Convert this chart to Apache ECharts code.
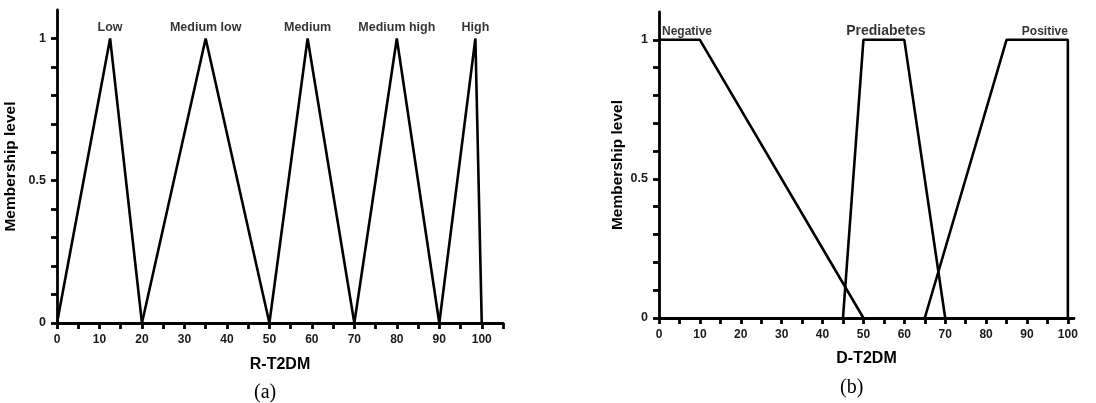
<!DOCTYPE html>
<html><head><meta charset="utf-8">
<script src="https://cdn.jsdelivr.net/npm/echarts@6/dist/echarts.min.js"></script>
<style>html,body{margin:0;padding:0;background:#fff}#c{width:1096px;height:403px}</style>
</head><body><div id="c"></div>
<script>
// ---- data: chart (a) R-T2DM ----
const aLow = [[0,0],[12.5,1],[20,0]];
const aMedLow = [[20,0],[35,1],[50,0]];
const aMedium = [[50,0],[59,1],[70,0]];
const aMedHigh = [[70,0],[80,1],[90,0]];
const aHigh = [[90,0],[98.5,1],[100,0]];
const aNames = ['Low','Medium low','Medium','Medium high','High'];
const aPeaks = [12.5,35,59,80,98.5];
// ---- data: chart (b) D-T2DM ----
const bNegative = [[0,1],[10,1],[50,0]];
const bPrediabetes = [[45,0],[50,1],[60,1],[70,0]];
const bPositive = [[65,0],[85,1],[100,1],[100,0]];
const bNames = ['Negative','Prediabetes','Positive'];
const bLabelX = [0,55.5,100];
// ---- ticks ----
const xTicksA = [0,5,10,15,20,25,30,35,40,45,50,55,60,65,70,75,80,85,90,95,100,105];
const xTicksB = [0,5,10,15,20,25,30,35,40,45,50,55,60,65,70,75,80,85,90,95,100];
const xLabels = [0,10,20,30,40,50,60,70,80,90,100];
const yTicks = [0,0.1,0.2,0.3,0.4,0.5,0.6,0.7,0.8,0.9,1];
const yLabels = [0,0.5,1];

const FONT = 'Liberation Sans, Arial, sans-serif';
const lineStyle = {color:'#000', width:2.6};
function mkLine(data, idx){
  return {type:'line', xAxisIndex:idx, yAxisIndex:idx, data:data, symbol:'none',
    lineStyle:lineStyle, animation:false, silent:true, z:3};
}
function xAx(idx, max, ticks, name, gap){
  return {type:'value', gridIndex:idx, min:0, max:max, name:name, nameLocation:'middle', nameGap:gap,
    nameTextStyle:{fontFamily:FONT, fontWeight:'bold', fontSize:16, color:'#000'},
    axisLine:{show:true, onZero:false, lineStyle:{color:'#000', width:2.8}},
    axisTick:{show:true, customValues:ticks, length:6, lineStyle:{color:'#000', width:2.8}},
    axisLabel:{customValues:xLabels, margin:11, fontFamily:FONT, fontWeight:'bold', fontSize:12, color:'#1a1a1a'},
    splitLine:{show:false}};
}
function yAx(idx, gap){
  return {type:'value', gridIndex:idx, min:0, max:1.1, name:'Membership level', nameLocation:'middle', nameGap:gap,
    nameTextStyle:{fontFamily:FONT, fontWeight:'bold', fontSize:15.5, color:'#000'},
    axisLine:{show:true, onZero:false, lineStyle:{color:'#000', width:2.8}},
    axisTick:{show:true, customValues:yTicks, length:6, lineStyle:{color:'#000', width:2.8}},
    axisLabel:{customValues:yLabels, margin:11, fontFamily:FONT, fontWeight:'bold', fontSize:12.5, color:'#1a1a1a'},
    splitLine:{show:false}};
}
const aLabelData = aNames.map((n,i)=>({name:n, value:[aPeaks[i],1]}));
const bLabelData = bNames.map((n,i)=>{
  const d = {name:n, value:[bLabelX[i],1]};
  if(i===0) d.label = {align:'left', offset:[3,0]};
  if(i===1) d.label = {fontSize:14};
  if(i===2) d.label = {align:'right', offset:[0,0]};
  return d;
});
const chart = echarts.init(document.getElementById('c'), null, {renderer:'canvas'});
chart.setOption({
  animation:false,
  backgroundColor:'#fff',
  grid:[
    {left:57, right:593, top:10, bottom:80},
    {left:659, right:22, top:12, bottom:85}
  ],
  xAxis:[xAx(0,105,xTicksA,'R-T2DM',34), xAx(1,101.5,xTicksB,'D-T2DM',33)],
  yAxis:[yAx(0,38), yAx(1,33)],
  series:[
    mkLine(aLow,0), mkLine(aMedLow,0), mkLine(aMedium,0), mkLine(aMedHigh,0), mkLine(aHigh,0),
    mkLine(bNegative,1), mkLine(bPrediabetes,1), mkLine(bPositive,1),
    {type:'scatter', xAxisIndex:0, yAxisIndex:0, symbolSize:0, data:aLabelData, silent:true,
      label:{show:true, position:'top', distance:4, formatter:'{b}', fontFamily:FONT, fontWeight:'bold', fontSize:12.5, color:'#000'}},
    {type:'scatter', xAxisIndex:1, yAxisIndex:1, symbolSize:0, data:bLabelData, silent:true,
      label:{show:true, position:'top', distance:2, formatter:'{b}', fontFamily:FONT, fontWeight:'bold', fontSize:12, color:'#000'}}
  ],
  graphic:[
    {type:'text', left:254, top:383, style:{text:'(a)', font:'20px "Liberation Serif", "Times New Roman", serif', fill:'#000'}},
    {type:'text', left:840, top:378, style:{text:'(b)', font:'20px "Liberation Serif", "Times New Roman", serif', fill:'#000'}}
  ]
});
</script></body></html>
